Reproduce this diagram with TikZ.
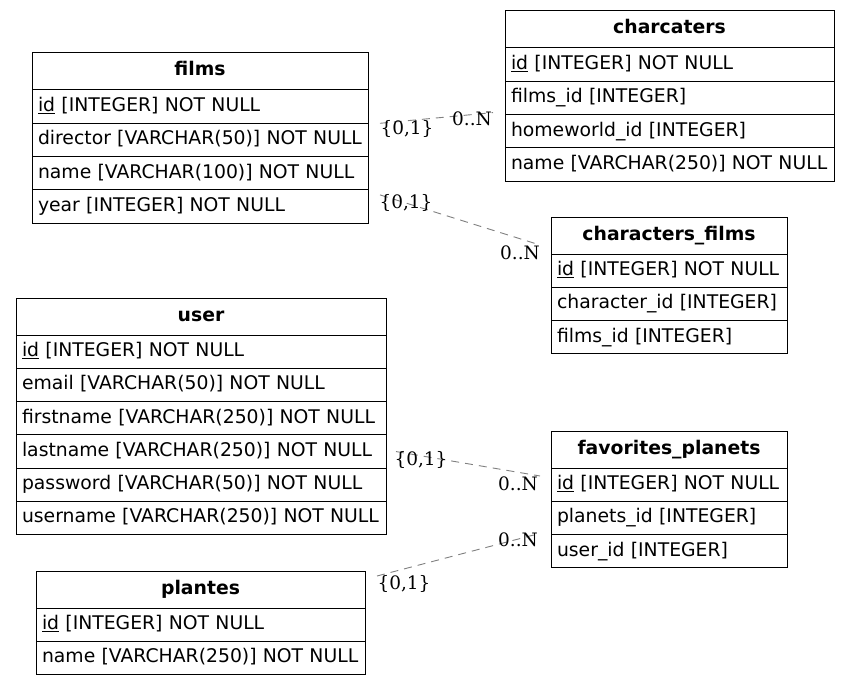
\documentclass[tikz,border=0pt]{standalone}
\usepackage{fontspec}
\setmainfont{DejaVu Sans}
\newfontfamily\cardfont{DejaVu Serif}
\usetikzlibrary{positioning}

\begin{document}
\begin{tikzpicture}[x=1pt, y=-1pt, line width=1pt,
    every node/.style={rectangle, outer sep=0pt, inner xsep=6pt, inner ysep=0pt, font=\fontsize{18.8}{22}\selectfont},
    head/.style={draw, text width=#1, align=center, minimum height=37pt, text height=14pt, text depth=5pt, font=\fontsize{18.8}{22}\selectfont\bfseries},
    field/.style={draw, text width=#1, align=left, minimum height=33.3pt, text height=14pt, text depth=4.5pt},
    card/.style={inner sep=1pt, font=\cardfont\fontsize{18.5}{20}\selectfont},
    rel/.style={draw=gray, line width=0.9pt, dash pattern=on 8pt off 6pt}]
    \useasboundingbox[fill=white] (0,0) rectangle (849,685);

    % films
    \node[head=324pt, anchor=north west] (films) at (32,53) {films};
    \node[field=324pt, below=0pt of films] (films-id) {\underline{id} [INTEGER] NOT NULL};
    \node[field=324pt, below=0pt of films-id] (films-director) {director [VARCHAR(50)] NOT NULL};
    \node[field=324pt, below=0pt of films-director] (films-name) {name [VARCHAR(100)] NOT NULL};
    \node[field=324pt, below=0pt of films-name] (films-year) {year [INTEGER] NOT NULL};

    % charcaters
    \node[head=317pt, anchor=north west] (chars) at (505,11) {charcaters};
    \node[field=317pt, below=0pt of chars] (chars-id) {\underline{id} [INTEGER] NOT NULL};
    \node[field=317pt, below=0pt of chars-id] (chars-filmsid) {films\_id [INTEGER]};
    \node[field=317pt, below=0pt of chars-filmsid] (chars-homeid) {homeworld\_id [INTEGER]};
    \node[field=317pt, below=0pt of chars-homeid] (chars-name) {name [VARCHAR(250)] NOT NULL};

    % characters_films
    \node[head=224pt, anchor=north west] (cf) at (551,217) {characters\_films};
    \node[field=224pt, below=0pt of cf] (cf-id) {\underline{id} [INTEGER] NOT NULL};
    \node[field=224pt, below=0pt of cf-id] (cf-charid) {character\_id [INTEGER]};
    \node[field=224pt, below=0pt of cf-charid] (cf-filmsid) {films\_id [INTEGER]};

    % user
    \node[head=358pt, anchor=north west] (user) at (16,298) {user};
    \node[field=358pt, below=0pt of user] (user-id) {\underline{id} [INTEGER] NOT NULL};
    \node[field=358pt, below=0pt of user-id] (user-email) {email [VARCHAR(50)] NOT NULL};
    \node[field=358pt, below=0pt of user-email] (user-first) {firstname [VARCHAR(250)] NOT NULL};
    \node[field=358pt, below=0pt of user-first] (user-last) {lastname [VARCHAR(250)] NOT NULL};
    \node[field=358pt, below=0pt of user-last] (user-pass) {password [VARCHAR(50)] NOT NULL};
    \node[field=358pt, below=0pt of user-pass] (user-uname) {username [VARCHAR(250)] NOT NULL};

    % favorites_planets
    \node[head=224pt, anchor=north west] (fp) at (551,431) {favorites\_planets};
    \node[field=224pt, below=0pt of fp] (fp-id) {\underline{id} [INTEGER] NOT NULL};
    \node[field=224pt, below=0pt of fp-id] (fp-planetsid) {planets\_id [INTEGER]};
    \node[field=224pt, below=0pt of fp-planetsid] (fp-userid) {user\_id [INTEGER]};

    % plantes
    \node[head=317pt, anchor=north west] (plantes) at (36,571) {plantes};
    \node[field=317pt, below=0pt of plantes] (plantes-id) {\underline{id} [INTEGER] NOT NULL};
    \node[field=317pt, below=0pt of plantes-id] (plantes-name) {name [VARCHAR(250)] NOT NULL};

    % relations
    \draw[rel] ([shift={(12,0)}]films-id.south east) -- ([shift={(-12,-2)}]chars-filmsid.south west);
    \draw[rel] ([shift={(12,5)}]films-year.north east) -- ([shift={(-11,-9)}]cf.south west);
    \draw[rel] ([shift={(10,0)}]user-last.east) -- ([shift={(-11,8)}]fp.south west);
    \draw[rel] ([shift={(12,5)}]plantes.north east) -- ([shift={(-12,-1)}]fp-planetsid.south west);

    \node[card] (c1a) at (407,129) {\{0,1\}};
    \node[card] (c1b) at (472,119) {0..N};
    \node[card] (c2a) at (406,203) {\{0,1\}};
    \node[card] (c2b) at (520,253) {0..N};
    \node[card] (c3a) at (421,460) {\{0,1\}};
    \node[card] (c3b) at (518,484) {0..N};
    \node[card] (c4a) at (404,584) {\{0,1\}};
    \node[card] (c4b) at (518,540) {0..N};
\end{tikzpicture}
\end{document}
